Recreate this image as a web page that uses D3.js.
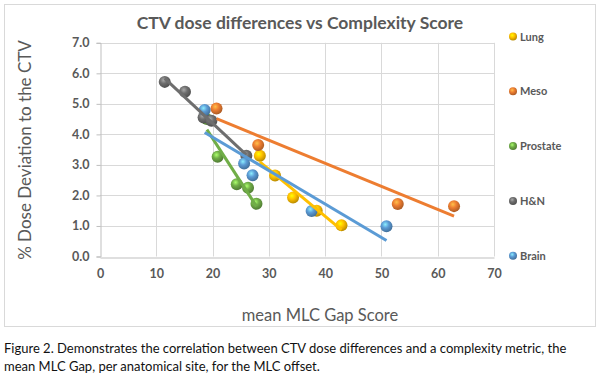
<!DOCTYPE html>
<html>
<head>
<meta charset="utf-8">
<script src="https://cdn.jsdelivr.net/npm/d3@7"></script>
<style>
  body { margin: 0; background: #fff; }
  svg { display: block; font-family: Lato, "Open Sans", sans-serif; }
</style>
</head>
<body>
<svg width="600" height="374"></svg>
<script>
// data
const lungX = [28.4, 31.1, 34.3, 38.5, 42.9];
const lungY = [3.30, 2.65, 1.93, 1.50, 1.02];
const mesoX = [20.7, 28.1, 52.9, 62.9];
const mesoY = [4.85, 3.65, 1.72, 1.65];
const prostateX = [19.0, 20.9, 24.3, 26.3, 27.8];
const prostateY = [4.50, 3.27, 2.37, 2.25, 1.73];
const hnX = [11.5, 15.1, 18.4, 19.8, 26.0];
const hnY = [5.72, 5.40, 4.55, 4.45, 3.30];
const brainX = [18.6, 25.6, 27.1, 37.6, 50.9];
const brainY = [4.80, 3.05, 2.66, 1.49, 0.99];

const seriesNames = ["Lung", "Meso", "Prostate", "H&N", "Brain"];
const xTicks = [0, 10, 20, 30, 40, 50, 60, 70];
const yTicks = [0, 1, 2, 3, 4, 5, 6, 7];

const colors = {
    "Lung": "#FFC000",
    "Meso": "#ED7D31",
    "Prostate": "#70AD47",
    "H&N": "#6E6E6E",
    "Brain": "#5B9BD5"
};

const series = [
    { name: "Lung", xs: lungX, ys: lungY },
    { name: "Meso", xs: mesoX, ys: mesoY },
    { name: "Prostate", xs: prostateX, ys: prostateY },
    { name: "H&N", xs: hnX, ys: hnY },
    { name: "Brain", xs: brainX, ys: brainY }
];

const svg = d3.select("svg");

// chart box
svg.append("rect")
    .attr("x", 4.5).attr("y", 4.5)
    .attr("width", 591).attr("height", 322)
    .attr("fill", "#fff")
    .attr("stroke", "#d9d9d9");

const x = d3.scaleLinear().domain([0, 70]).range([100, 494]);
const y = d3.scaleLinear().domain([0, 7]).range([256.5, 42.8]);

// gradients for the 3D-looking markers
const defs = svg.append("defs");
seriesNames.forEach((name, i) => {
    let c = d3.color(colors[name]);
    let g = defs.append("radialGradient")
        .attr("id", "g" + i)
        .attr("cx", "40%").attr("cy", "35%").attr("r", "65%");
    g.append("stop").attr("offset", "0%").attr("stop-color", c.brighter(1.2));
    g.append("stop").attr("offset", "45%").attr("stop-color", c);
    g.append("stop").attr("offset", "100%").attr("stop-color", c.darker(0.9));
});

// gridlines
svg.append("g")
    .selectAll("line.hg")
    .data(yTicks.slice(1))
    .join("line")
    .attr("x1", x(0)).attr("x2", x(70))
    .attr("y1", d => Math.round(y(d)) + 0.5)
    .attr("y2", d => Math.round(y(d)) + 0.5)
    .attr("stroke", "#d9d9d9");
svg.append("g")
    .selectAll("line.vg")
    .data(xTicks.slice(1))
    .join("line")
    .attr("x1", d => Math.round(x(d)) + 0.5)
    .attr("x2", d => Math.round(x(d)) + 0.5)
    .attr("y1", y(0)).attr("y2", y(7))
    .attr("stroke", "#d9d9d9");

// axes
let xAxis = svg.append("g")
    .attr("transform", `translate(0,${Math.round(y(0)) + 0.5})`)
    .call(d3.axisBottom(x).tickValues(xTicks).tickSize(0).tickPadding(12));
let yAxis = svg.append("g")
    .attr("transform", `translate(${Math.round(x(0)) + 0.5},0)`)
    .call(d3.axisLeft(y).tickValues(yTicks).tickSize(4).tickPadding(7).tickFormat(d3.format(".1f")));
[xAxis, yAxis].forEach(a => {
    a.select(".domain").attr("stroke", "#bfbfbf");
    a.selectAll(".tick line").attr("stroke", "#bfbfbf");
    a.selectAll("text")
        .attr("fill", "#595959")
        .attr("font-size", 12.5)
        .attr("font-weight", "bold")
        .attr("font-family", "Lato, sans-serif");
});

// trend lines (least squares, like the spreadsheet's linear trendline)
function fit(xs, ys) {
    let mx = d3.mean(xs), my = d3.mean(ys);
    let sxy = d3.sum(xs, (v, i) => (v - mx) * (ys[i] - my));
    let sxx = d3.sum(xs, v => (v - mx) * (v - mx));
    let b = sxy / sxx;
    return v => my + b * (v - mx);
}

// markers first, trend lines drawn on top
series.forEach((s, i) => {
    svg.append("g")
        .selectAll("circle")
        .data(s.xs.map((v, j) => [v, s.ys[j]]))
        .join("circle")
        .attr("cx", d => x(d[0]))
        .attr("cy", d => y(d[1]))
        .attr("r", 6)
        .attr("fill", `url(#g${i})`);
});
series.forEach(s => {
    let f = fit(s.xs, s.ys);
    let x0 = d3.min(s.xs), x1 = d3.max(s.xs);
    svg.append("line")
        .attr("x1", x(x0)).attr("y1", y(f(x0)))
        .attr("x2", x(x1)).attr("y2", y(f(x1)))
        .attr("stroke", colors[s.name])
        .attr("stroke-width", 3);
});

// title
svg.append("text")
    .attr("x", 300).attr("y", 29)
    .attr("text-anchor", "middle")
    .attr("font-size", 17.5)
    .attr("font-weight", "bold")
    .attr("fill", "#595959")
    .text("CTV dose differences vs Complexity Score");

// axis titles
svg.append("text")
    .attr("x", 320).attr("y", 321)
    .attr("text-anchor", "middle")
    .attr("font-size", 16.5)
    .attr("fill", "#595959")
    .text("mean MLC Gap Score");
svg.append("text")
    .attr("transform", "translate(31,150) rotate(-90)")
    .attr("text-anchor", "middle")
    .attr("font-size", 17)
    .attr("fill", "#595959")
    .text("% Dose Deviation to the CTV");

// legend
let legend = svg.append("g")
    .selectAll("g")
    .data(seriesNames)
    .join("g")
    .attr("transform", (d, i) => `translate(513,${36.5 + i * 54.8})`);
legend.append("circle")
    .attr("r", 4)
    .attr("fill", (d, i) => `url(#g${i})`);
legend.append("text")
    .attr("x", 7).attr("y", 4)
    .attr("font-size", 11)
    .attr("fill", "#595959")
    .attr("font-weight", "bold")
    .text(d => d);

// caption
const caption = [
    "Figure 2. Demonstrates the correlation between CTV dose differences and a complexity metric, the",
    "mean MLC Gap, per anatomical site, for the MLC offset."
];
svg.append("g")
    .selectAll("text")
    .data(caption)
    .join("text")
    .attr("x", 4)
    .attr("y", (d, i) => 353 + i * 18)
    .attr("font-size", 13)
    .attr("fill", "#111")
    .text(d => d);
</script>
</body>
</html>
